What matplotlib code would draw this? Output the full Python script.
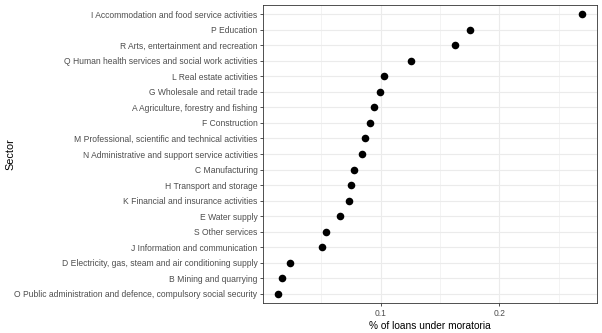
import matplotlib
matplotlib.use("Agg")
import matplotlib.pyplot as plt
from matplotlib.ticker import MultipleLocator

sectors = [
    "O Public administration and defence, compulsory social security",
    "B Mining and quarrying",
    "D Electricity, gas, steam and air conditioning supply",
    "J Information and communication",
    "S Other services",
    "E Water supply",
    "K Financial and insurance activities",
    "H Transport and storage",
    "C Manufacturing",
    "N Administrative and support service activities",
    "M Professional, scientific and technical activities",
    "F Construction",
    "A Agriculture, forestry and fishing",
    "G Wholesale and retail trade",
    "L Real estate activities",
    "Q Human health services and social work activities",
    "R Arts, entertainment and recreation",
    "P Education",
    "I Accommodation and food service activities",
]
values = [0.0135, 0.0166, 0.0233, 0.0507, 0.0538, 0.0659, 0.0730, 0.0752,
          0.0777, 0.0845, 0.0865, 0.0912, 0.0943, 0.0991, 0.1025, 0.1256,
          0.1628, 0.1755, 0.2696]
x_ticks = [0.1, 0.2]
x_tick_labels = ["0.1", "0.2"]

plt.rcParams['font.family'] = ['Liberation Sans', 'DejaVu Sans']

fig = plt.figure(figsize=(6.02, 3.33), dpi=100)
ax = fig.add_axes([263/602, 30/333, 334/602, 298/333])

ypos = list(range(len(sectors)))
ax.scatter(values, ypos, s=30, color="black", zorder=3, linewidths=0)

vmin, vmax = min(values), max(values)
pad = (vmax - vmin) * 0.05
ax.set_xlim(vmin - pad, vmax + pad)
ax.set_ylim(-0.6, len(sectors) - 1 + 0.6)

ax.set_yticks(ypos)
ax.set_yticklabels(sectors)
ax.set_xticks(x_ticks)
ax.set_xticklabels(x_tick_labels)
ax.xaxis.set_minor_locator(MultipleLocator(0.05))
ax.grid(True, which="major", color="#ebebeb", linewidth=0.8, zorder=0)
ax.grid(True, which="minor", axis="x", color="#ebebeb", linewidth=0.4, zorder=0)
ax.set_axisbelow(True)
ax.tick_params(which="minor", length=0)
ax.tick_params(which="major", length=2.5, width=0.6, color="#333333",
               labelcolor="#4d4d4d", labelsize=6.15, pad=1.5)
for sp in ax.spines.values():
    sp.set_color("#333333")
    sp.set_linewidth(0.6)

ax.set_xlabel("% of loans under moratoria", fontsize=7.3, labelpad=2.5)
ax.set_ylabel("Sector", fontsize=7.8)
ax.yaxis.set_label_coords((15 - 263) / 334, 0.5)

fig.savefig("out.png", dpi=100, facecolor="white")
